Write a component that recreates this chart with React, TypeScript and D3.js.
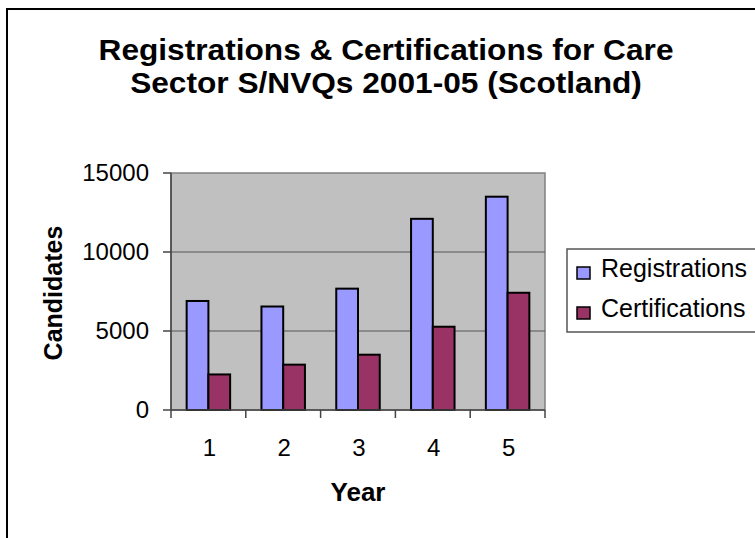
import React from "react";
import * as d3 from "d3";

const categories = ["1", "2", "3", "4", "5"];
const seriesNames = ["Registrations", "Certifications"];
const registrations = [6900, 6550, 7680, 12100, 13500];
const certifications = [2250, 2870, 3500, 5270, 7420];
const yTicks = [0, 5000, 10000, 15000];
const colors = ["#9999FF", "#993366"];

const titleLines = [
  "Registrations & Certifications for Care",
  "Sector S/NVQs 2001-05 (Scotland)",
];

export default function App() {
  const W = 755;
  const H = 538;
  const plot = { left: 171, right: 545, top: 173, bottom: 410 };
  const x = d3
    .scaleBand<string>()
    .domain(categories)
    .range([plot.left, plot.right])
    .paddingInner(0)
    .paddingOuter(0);
  const inner = d3
    .scaleBand<string>()
    .domain(seriesNames)
    .range([0, x.bandwidth()])
    .paddingInner(0)
    .paddingOuter(0.72);
  const y = d3.scaleLinear().domain([0, 15000]).range([plot.bottom, plot.top]);
  const series = [registrations, certifications];
  const font = "'Liberation Sans', Arial, sans-serif";
  const boundaries = d3.range(categories.length + 1).map((i) =>
    i < categories.length ? (x(categories[i]) as number) : plot.right
  );

  return (
    <svg
      width={W}
      height={H}
      style={{ position: "absolute", left: 0, top: 0, background: "#fff" }}
      fontFamily={font}
    >
      <rect x={0} y={0} width={W} height={H} fill="#fff" />
      <rect x={7} y={9} width={900} height={700} fill="#fff" stroke="#000" strokeWidth={2} />

      {titleLines.map((t, i) => (
        <text
          key={i}
          transform={`translate(386,${60 + i * 33}) scale(1.055,1)`}
          textAnchor="middle"
          fontSize={30}
          fontWeight="bold"
          fill="#000"
        >
          {t}
        </text>
      ))}

      <rect
        x={plot.left}
        y={plot.top}
        width={plot.right - plot.left}
        height={plot.bottom - plot.top}
        fill="#C0C0C0"
        stroke="#808080"
        strokeWidth={1.5}
      />
      {yTicks
        .filter((t) => t > 0 && t < 15000)
        .map((t) => (
          <line
            key={t}
            x1={plot.left}
            x2={plot.right}
            y1={y(t)}
            y2={y(t)}
            stroke="#555"
            strokeWidth={1}
          />
        ))}

      {series.map((vals, si) =>
        vals.map((v, ci) => {
          const bx = (x(categories[ci]) as number) + (inner(seriesNames[si]) as number);
          return (
            <rect
              key={`${si}-${ci}`}
              x={bx}
              y={y(v)}
              width={inner.bandwidth()}
              height={y(0) - y(v)}
              fill={colors[si]}
              stroke="#000"
              strokeWidth={2}
            />
          );
        })
      )}

      {/* y axis */}
      <line x1={plot.left} x2={plot.left} y1={plot.top} y2={plot.bottom} stroke="#444" strokeWidth={1.5} />
      {yTicks.map((t) => (
        <g key={t}>
          <line x1={plot.left - 8} x2={plot.left} y1={y(t)} y2={y(t)} stroke="#444" strokeWidth={1.5} />
          <text x={149} y={y(t)} dy="0.35em" textAnchor="end" fontSize={24} fill="#000">
            {t}
          </text>
        </g>
      ))}

      {/* x axis */}
      <line x1={plot.left} x2={plot.right} y1={plot.bottom} y2={plot.bottom} stroke="#444" strokeWidth={1.5} />
      {boundaries.map((b, i) => (
        <line key={i} x1={b} x2={b} y1={plot.bottom} y2={plot.bottom + 8} stroke="#444" strokeWidth={1.5} />
      ))}
      {categories.map((c) => (
        <text
          key={c}
          x={(x(c) as number) + x.bandwidth() / 2 + 1}
          y={456}
          textAnchor="middle"
          fontSize={24}
          fill="#000"
        >
          {c}
        </text>
      ))}

      <text x={358} y={501} textAnchor="middle" fontSize={26} fontWeight="bold" fill="#000">
        Year
      </text>
      <text
        transform={`translate(62,293) rotate(-90)`}
        textAnchor="middle"
        fontSize={25}
        fontWeight="bold"
        fill="#000"
      >
        Candidates
      </text>

      {/* legend */}
      <rect x={567} y={249} width={300} height={83} fill="#fff" stroke="#555" strokeWidth={1.5} />
      {seriesNames.map((s, i) => (
        <g key={s}>
          <rect
            x={577}
            y={267 + i * 40}
            width={13}
            height={12}
            fill={colors[i]}
            stroke="#000"
            strokeWidth={1.5}
          />
          <text x={601} y={277 + i * 40} fontSize={25} fill="#000">
            {s}
          </text>
        </g>
      ))}
    </svg>
  );
}
